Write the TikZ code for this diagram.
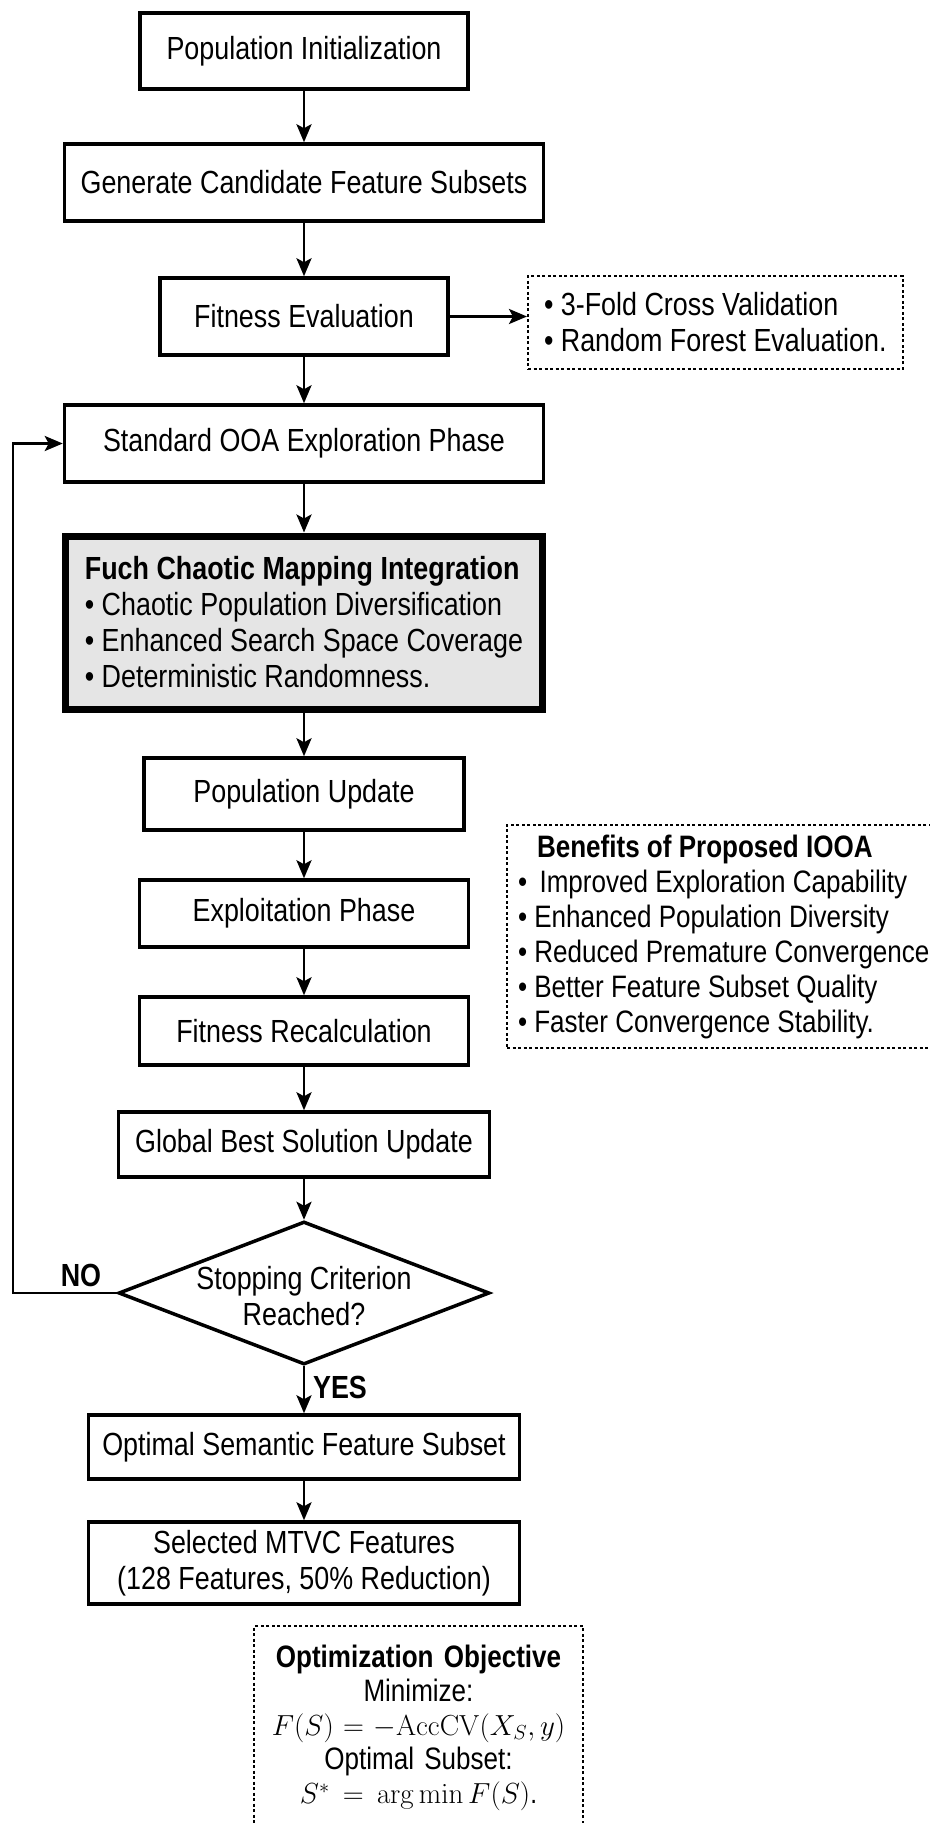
\documentclass[tikz,border=0pt]{standalone}
\usepackage{fix-cm}
\usepackage[no-math]{fontspec}
\setmainfont{Liberation Sans}[FakeStretch=0.84]
\usetikzlibrary{arrows.meta, shapes.geometric}

\begin{document}
\begin{tikzpicture}[x=1pt, y=-1pt,
    every node/.style={font=\fontsize{32}{36}\selectfont, inner sep=0pt},
    process/.style={draw, line width=3.5pt, minimum height=76pt},
    chaos/.style={draw, line width=7pt, fill=gray!20, align=left},
    note/.style={draw, line width=2pt, dash pattern=on 3pt off 2.5pt},
    decision/.style={draw, diamond, line width=3.5pt},
    answer/.style={font=\fontsize{32}{36}\selectfont\bfseries},
    link/.style={line width=2.8pt, -{Stealth[length=18pt, width=15pt, inset=4pt]}}
]
\useasboundingbox (0,0) rectangle (929,1823);

% main chain
\node[process, minimum width=328pt] (init) at (304,51) {Population Initialization};
\node[process, minimum width=479pt, minimum height=77pt] (gen) at (304,182.5) {Generate Candidate Feature Subsets};
\node[process, minimum width=288pt, minimum height=77pt] (fit) at (304,316.5) {Fitness Evaluation};
\node[process, minimum width=479pt, minimum height=77pt] (ooa) at (304,443.5) {Standard OOA Exploration Phase};
\node[chaos, minimum width=477pt, minimum height=173pt] (fuch) at (304,622.5) {\textbf{Fuch Chaotic Mapping Integration}\\
    • Chaotic Population Diversification\\• Enhanced Search Space Coverage\\• Deterministic Randomness.};
\node[process, minimum width=320pt, minimum height=72pt] (popup) at (304,794) {Population Update};
\node[process, minimum width=329pt, minimum height=67pt] (exploit) at (304,913.5) {Exploitation Phase};
\node[process, minimum width=329pt, minimum height=68pt] (recalc) at (304,1031) {Fitness Recalculation};
\node[process, minimum width=371pt, minimum height=65pt] (gbest) at (304,1144.5) {Global Best Solution Update};

% decision
\node[decision, minimum width=371pt, minimum height=143pt] (stop) at (304,1293) {};
\node[align=center] (stoptext) at (304,1296) {Stopping Criterion\\Reached?};
\node[answer] (no) at (81,1275) {NO};
\node[answer] (yes) at (340,1387) {YES};

\node[process, minimum width=431pt, minimum height=64pt] (optsub) at (304,1447) {Optimal Semantic Feature Subset};
\node[process, minimum width=431pt, minimum height=82pt, align=center] (mtvc) at (304,1563) {Selected MTVC Features\\(128 Features, 50\% Reduction)};

% side notes
\node[note, anchor=west, minimum height=93pt, inner xsep=16pt, align=left] (fitnote) at (527,322.5)
    {• 3-Fold Cross Validation\\• Random Forest Evaluation.};
\node[note, anchor=west, minimum height=223pt, inner xsep=11pt, align=left, font=\fontsize{31}{35}\selectfont] (benefits) at (506,936.5)
    {\hspace*{19pt}\textbf{Benefits of Proposed IOOA}\\•\, Improved Exploration Capability\\• Enhanced Population Diversity\\
     • Reduced Premature Convergence\\• Better Feature Subset Quality\\• Faster Convergence Stability.};
\node[note, minimum width=329pt, minimum height=204pt, text width=315pt, align=center, font=\fontsize{31}{34}\selectfont] (objective) at (418.5,1728)
    {\textbf{Optimization Objective}\\Minimize:\\{\fontsize{29}{34}\selectfont$F(S) = -\mathrm{AccCV}(X_S, y)$}\\Optimal Subset:\\
     {\fontsize{29}{34}\selectfont$S^* = \arg\min F(S)$.}\par};

% arrows
\draw[link] (init) -- (gen);
\draw[link] (gen) -- (fit);
\draw[link] (fit.east) -- (fit.east -| fitnote.west);
\draw[link] (fit) -- (ooa);
\draw[link] (ooa) -- (fuch);
\draw[link] (fuch) -- (popup);
\draw[link] (popup) -- (exploit);
\draw[link] (exploit) -- (recalc);
\draw[link] (recalc) -- (gbest);
\draw[link] (gbest) -- (stop);
\draw[link] (stop) -- (optsub);
\draw[link] (optsub) -- (mtvc);

% loop back
\coordinate (loopcorner) at (13,1293);
\draw[link] (stop.west) -- (loopcorner) |- (ooa.west);

\end{tikzpicture}
\end{document}
